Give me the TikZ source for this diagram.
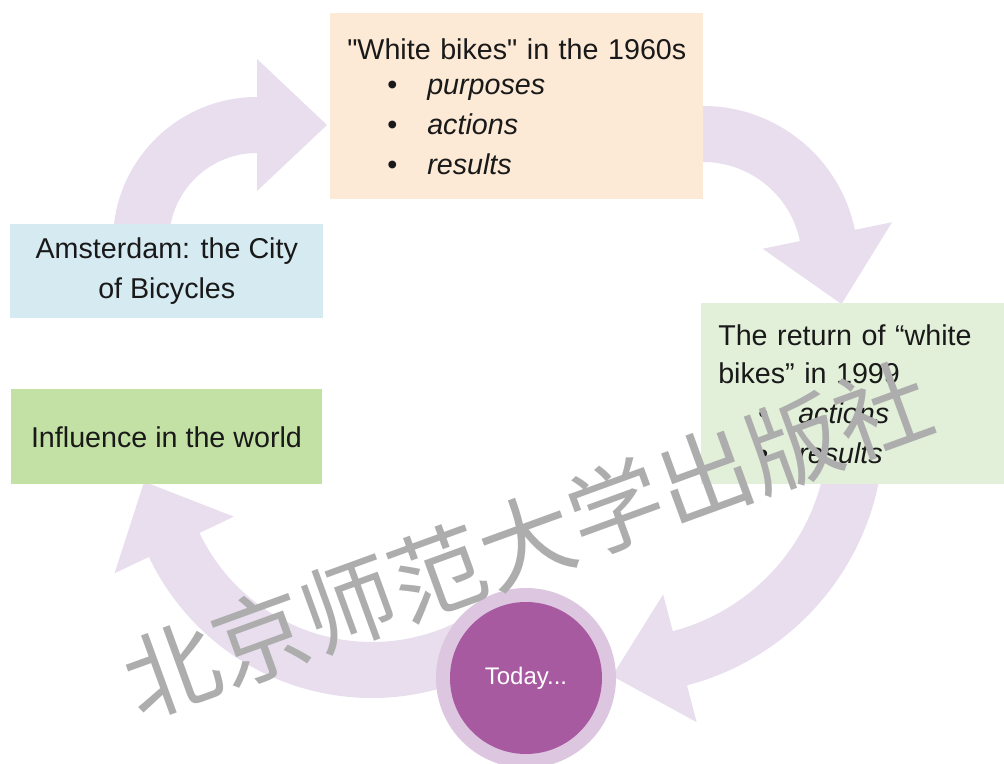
\documentclass[tikz,border=0pt]{standalone}
\usepackage{fontspec}
\setmainfont{Liberation Sans}
\newfontfamily\qfont{Liberation Sans}[Ligatures=ResetAll]
\newfontfamily\cjk{Noto Sans CJK SC}
\usetikzlibrary{calc}
\definecolor{peach}{HTML}{FCE9D6}
\definecolor{skyb}{HTML}{D6EAF2}
\definecolor{palegreen}{HTML}{E2F0D9}
\definecolor{leafgreen}{HTML}{C3E0A5}
\definecolor{lavender}{HTML}{E8DEEE}
\definecolor{ringcol}{HTML}{DCC6E0}
\definecolor{purp}{HTML}{A85AA0}
\definecolor{wmgray}{HTML}{ADADAD}
\newcommand\cyclearrow[6]{%
  \coordinate (#1c) at (#2,#3);
  \pgfmathsetmacro\arrRo{#4+28}\pgfmathsetmacro\arrRi{#4-28}%
  \pgfmathsetmacro\arrHo{#4+66}\pgfmathsetmacro\arrHi{#4-66}%
  \pgfmathsetmacro\arrTan{#6+90}%
  \fill[arrowfill] ($(#1c)+(#5:\arrRo)$) arc[start angle=#5,end angle=#6,radius=\arrRo]
    -- ($(#1c)+(#6:\arrHo)$) -- ($(#1c)+(#6:#4)+(\arrTan:70)$)
    -- ($(#1c)+(#6:\arrHi)$) -- ($(#1c)+(#6:\arrRi)$)
    arc[start angle=#6,end angle=#5,radius=\arrRi] -- cycle;}
\tikzset{
  arrowfill/.style={fill=lavender},
  box/.style={rectangle, inner sep=0pt, anchor=north west,
    font=\fontsize{21.5}{30}\selectfont, text=black!90},
  lbox/.style={box, align=left, inner xsep=12.75pt},
  cbox/.style={box, align=center}
}
\newcommand\bitem[1]{\hspace*{30pt}\makebox[30pt][l]{•}\textit{#1}}
\newcommand\sq{{\qfont"}}
\begin{document}
\begin{tikzpicture}[x=0.75pt,y=-0.75pt]
\useasboundingbox (0,0) rectangle (1004,764);
\clip (0,0) rectangle (1004,764);
\fill[white] (0,0) rectangle (1004,764);
% arrows
\cyclearrow{a1}{257}{241}{116}{180}{270}
\cyclearrow{a2}{703}{261}{127}{-100}{-11.6}
\cyclearrow{a3}{620}{430}{236}{5}{75.3}
\cyclearrow{a4}{372}{451}{219}{60}{154.6}
% boxes
\node[lbox, fill=peach, minimum width=279.75pt, minimum height=139.5pt, text width=254.25pt]
  (white) at (330,13) {\makebox[254.25pt][l]{\sq White bikes\sq{} in the 1960s}\\[-3.75pt]
  \bitem{purposes}\\ \bitem{actions}\\ \bitem{results}};
\node[cbox, fill=skyb, minimum width=234.75pt, minimum height=70.5pt]
  (ams) at (10,224) {\fontsize{21.5}{26.25}\selectfont Amsterdam: the City\\of Bicycles};
\node[cbox, fill=leafgreen, minimum width=233.25pt, minimum height=71.25pt]
  (infl) at (10.7,389) {Influence in the world};
\node[lbox, fill=palegreen, minimum width=228pt, minimum height=135.75pt, text width=202.5pt]
  (ret) at (701,303) {The return of “white\\[-1.5pt] bikes” in 1999\\
  \bitem{actions}\\ \bitem{results}};
% circle
\node[circle, fill=ringcol, inner sep=0pt, minimum size=135pt] (ring) at (526,678) {};
\node[circle, fill=purp, inner sep=0pt, minimum size=114pt, text=white,
  font=\fontsize{18}{20}\selectfont] (today) at (526,678) {Today...};
% watermark
\node[text=wmgray, rotate=20, font=\cjk\fontsize{71}{71}\selectfont, inner sep=0pt]
  (wm) at (527,540) {北京师范大学出版社};
\end{tikzpicture}
\end{document}
